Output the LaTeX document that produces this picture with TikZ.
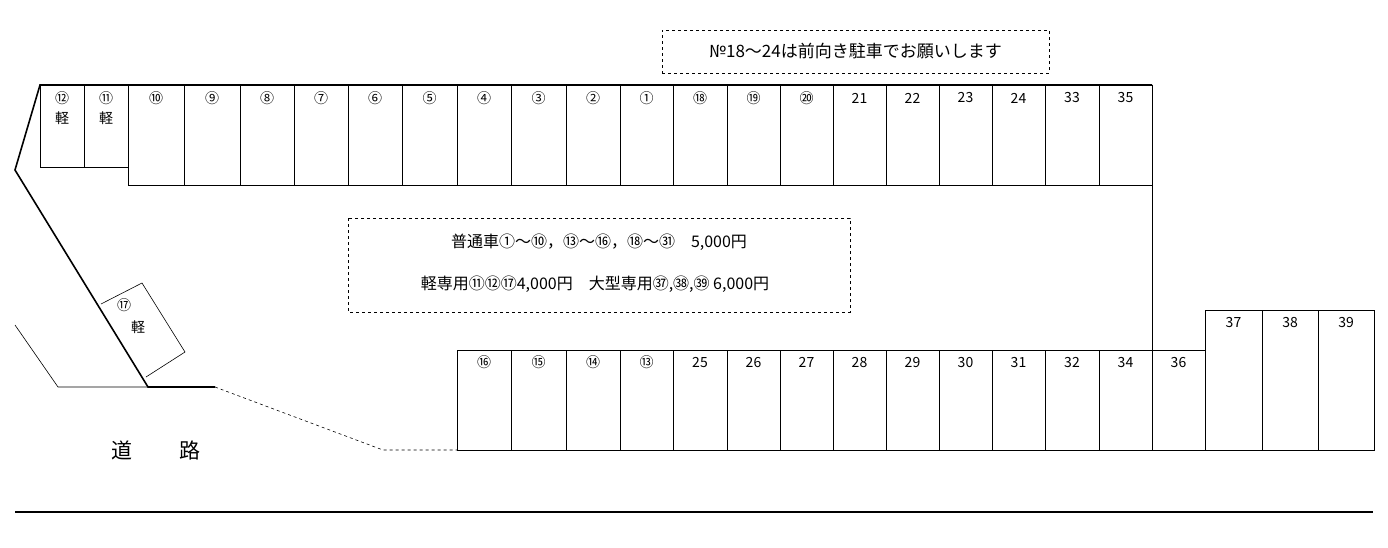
\documentclass[tikz,border=0pt]{standalone}
\usepackage{fontspec}
\setmainfont{Noto Sans CJK JP}
\usetikzlibrary{positioning}
\tikzset{
 lot/.style={draw, line width=0.6pt},
 num/.style={font=\fontsize{14}{14}\selectfont, inner sep=0pt},
 note/.style={draw, dashed, line width=0.6pt},
 edge/.style={line width=1.6pt}
}
\begin{document}
\begin{tikzpicture}[x=1pt, y=-1pt]
\useasboundingbox (0,0) rectangle (1388,547);

% top row
\foreach \a/\b/\l in {128/184/⑩, 184/240/⑨, 240/294/⑧, 294/348/⑦, 348/402/⑥, 402/457/⑤, 457/511/④, 511/566/③, 566/620/②, 620/673/①, 673/727/⑱, 727/780/⑲, 780/833/⑳, 833/886/21, 886/939/22, 939/992/23, 992/1045/24, 1045/1099/33, 1099/1152/35}
{
\draw[lot] (\a,85) rectangle (\b,185);
\node[num] (t-\b) at ({(\a+\b)/2},98) {\l};
}
\foreach \a/\b/\l in {40/84/⑫, 84/128/⑪}
{
\draw[lot] (\a,85) rectangle (\b,167);
\node[num] (k-\b) at ({(\a+\b)/2},98) {\l};
\node[num] at ({(\a+\b)/2},118) {軽};
}

% bottom row
\foreach \a/\b/\l in {457/511/⑯, 511/566/⑮, 566/620/⑭, 620/673/⑬, 673/727/25, 727/780/26, 780/833/27, 833/886/28, 886/939/29, 939/992/30, 992/1045/31, 1045/1099/32, 1099/1152/34, 1152/1205/36}
{
\draw[lot] (\a,350) rectangle (\b,450);
\node[num] (b-\b) at ({(\a+\b)/2},362) {\l};
}
\foreach \a/\b/\l in {1205/1262/37, 1262/1318/38, 1318/1374/39}
{
\draw[lot] (\a,310) rectangle (\b,450);
\node[num] (l-\b) at ({(\a+\b)/2},322) {\l};
}

% boundary
\draw[edge] (1152,85) -- (40,85) -- (15,170) -- (148,387) -- (215,387);
\draw[lot] (1152,85) -- (1152,450);
\draw[lot] (15,325) -- (58,387) -- (148,387);
\draw[lot, dashed] (215,387) -- (383,450) -- (457,450);

% space 17
\draw[lot] (101,304) -- (142,283) -- (185,352) -- (146,377);
\node[num] (s-17) at (124,305) {⑰};
\node[num] at (138,327) {軽};

% notes
\node[note, minimum width=387pt, minimum height=43pt, font=\fontsize{17}{17}\selectfont] (front) at (855.5,51.5) {№18～24は前向き駐車でお願いします};
\draw[note] (348,218) rectangle (850,312);
\node[num, font=\fontsize{16}{16}\selectfont] (fee1) at (599,242) {普通車①～⑩，⑬～⑯，⑱～㉛\quad 5,000円};
\node[num, font=\fontsize{16}{16}\selectfont] (fee2) at (595,284) {軽専用⑪⑫⑰4,000円\quad 大型専用㊲,㊳,㊴ 6,000円};

% road
\node[font=\fontsize{21}{21}\selectfont] (road1) at (122,450) {道};
\node[font=\fontsize{21}{21}\selectfont] (road2) at (190,450) {路};
\draw[line width=1.2pt] (15,512) -- (1373,512);
\end{tikzpicture}
\end{document}
